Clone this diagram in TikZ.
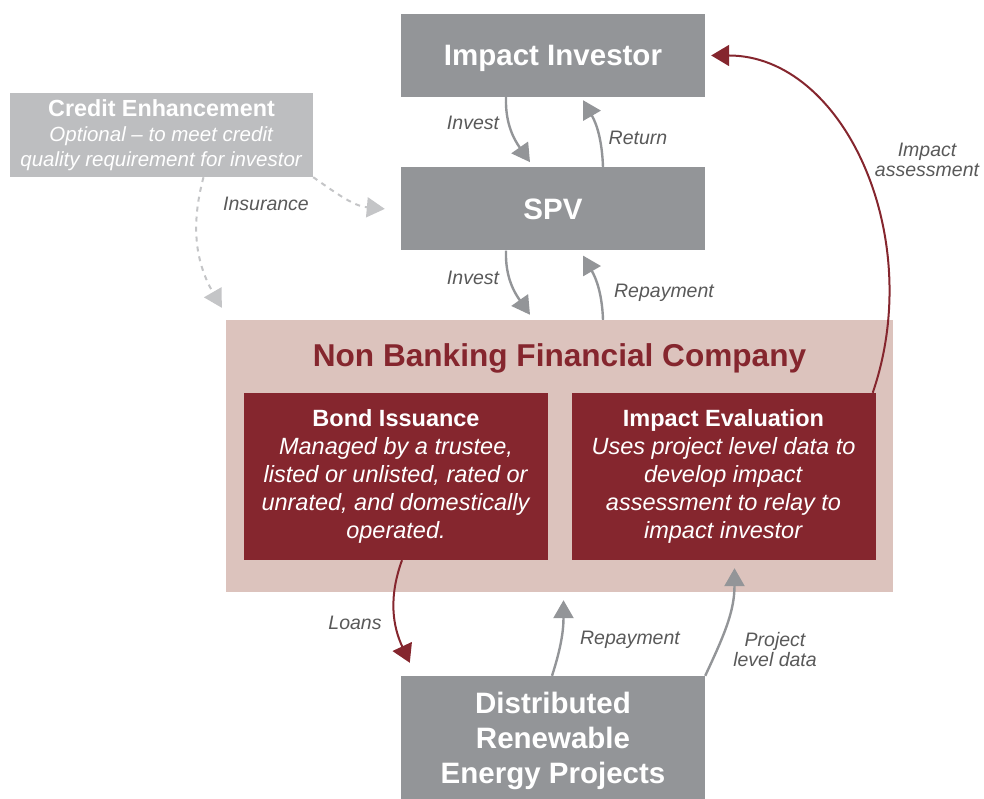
\documentclass[tikz,border=0pt]{standalone}
\usepackage{fontspec}
\setmainfont{Liberation Sans}
\usetikzlibrary{arrows.meta,positioning}
\definecolor{boxgray}{HTML}{939598}
\definecolor{cegray}{HTML}{BDBEC0}
\definecolor{nbfcpink}{HTML}{DCC3BD}
\definecolor{darkred}{HTML}{85262E}
\definecolor{lblgray}{HTML}{595959}
\definecolor{dashgray}{HTML}{C4C5C7}

\begin{document}
\begin{tikzpicture}[x=1pt,y=1pt,
	  gbox/.style={rectangle,fill=boxgray,text=white,inner sep=0pt,minimum width=304pt,
	    minimum height=83pt,align=center,text depth=0pt,font=\bfseries\fontsize{29.5}{35}\selectfont},
	  rbox/.style={rectangle,fill=darkred,text=white,inner sep=0pt,minimum width=304pt,
	    minimum height=167pt,align=center,font=\fontsize{23.5}{28}\selectfont},
	  flow/.style={draw=boxgray,line width=2.4pt,-{Triangle[length=18pt,width=20pt]}},
	  redflow/.style={draw=darkred,line width=2pt,-{Triangle[length=18pt,width=21pt]}},
	  dflow/.style={draw=dashgray,line width=2pt,dash pattern=on 5pt off 5pt,
	    -{Triangle[length=18pt,width=20pt]}},
	  lbl/.style={text=lblgray,align=center,inner sep=0pt,font=\itshape\fontsize{19.5}{20}\selectfont}]
	  \useasboundingbox (0,0) rectangle (984,799);
	  \node[gbox] (ii) at (553,743.5) {Impact Investor};
	  \node[gbox,below=70pt of ii] (spv) {SPV};
	  \node[rectangle,fill=cegray,text=white,inner sep=0pt,minimum width=303pt,minimum height=84pt,
	    align=center,font=\fontsize{20.5}{25}\selectfont] (ce) at (161.5,664)
	    {\textbf{\fontsize{23.3}{25}\selectfont Credit Enhancement}\\\textit{Optional – to meet credit}\\\textit{quality requirement for investor}};
	  \node[rectangle,fill=nbfcpink,minimum width=667pt,minimum height=272pt,inner sep=0pt] (nbfc) at (559.5,343) {};
	  \node[anchor=base,text=darkred,inner sep=0pt,font=\bfseries\fontsize{31.6}{36}\selectfont]
	    (nbfctitle) at (559.5,432) {Non Banking Financial Company};
	  \node[rbox] (bond) at (396,322.5) {\textbf{Bond Issuance}\\\textit{Managed by a trustee,}\\
	    \textit{listed or unlisted, rated or}\\\textit{unrated, and domestically}\\\textit{operated.}};
	  \node[rbox] (ieval) at (723.5,322.5) {\textbf{Impact Evaluation}\\\textit{Uses project level data to}\\
	    \textit{develop impact}\\\textit{assessment to relay to}\\\textit{impact investor}};
	  \node[gbox,minimum height=123pt] (drep) at (553,61.5) {Distributed\\Renewable\\Energy Projects};

	  \draw[flow] ([xshift=-47pt]ii.south) to[out=-92,in=125] ([xshift=-23pt,yshift=5pt]spv.north);
	  \draw[flow] ([xshift=50pt]spv.north) to[out=92,in=-60] ([xshift=30pt,yshift=-3pt]ii.south);
	  \draw[flow] ([xshift=-47pt]spv.south) to[out=-92,in=125] ([xshift=-29.5pt,yshift=5pt]nbfc.north);
	  \draw[flow] ([xshift=43.5pt]nbfc.north) to[out=92,in=-60] ([xshift=30pt,yshift=-5pt]spv.south);
	  \draw[dflow] (ce.south east) to[out=-35,in=175] ([xshift=-16pt]spv.west);
	  \draw[dflow] ([xshift=42pt]ce.south) to[out=-105,in=120] ([xshift=-4pt,yshift=12pt]nbfc.north west);
	  \draw[redflow] ([xshift=-3pt]ieval.north east) to[out=71,in=0,out distance=166pt,in distance=132pt]
	    ([xshift=6pt]ii.east);
	  \draw[redflow] ([xshift=6pt]bond.south) to[out=-110,in=115] ([xshift=9pt,yshift=13pt]drep.north west);
	  \draw[flow] ([xshift=-1pt]drep.north) to[out=72,in=-90] ([xshift=4pt,yshift=-8pt]nbfc.south);
	  \draw[flow] (drep.north east) to[out=65,in=-90] ([xshift=11pt,yshift=-8pt]ieval.south);

	  \node[lbl] (linv1) at (473,676) {Invest};
	  \node[lbl] (lret) at (638,661) {Return};
	  \node[lbl] (linv2) at (473,521) {Invest};
	  \node[lbl] (lrep1) at (664,506) {Repayment};
	  \node[lbl] (lins) at (266,595) {Insurance};
	  \node[lbl] (limp) at (927,639) {Impact\\assessment};
	  \node[lbl] (lloans) at (355,176) {Loans};
	  \node[lbl] (lrep2) at (630,159) {Repayment};
	  \node[lbl] (lpld) at (775,149) {Project\\level data};
	\end{tikzpicture}
\end{document}
